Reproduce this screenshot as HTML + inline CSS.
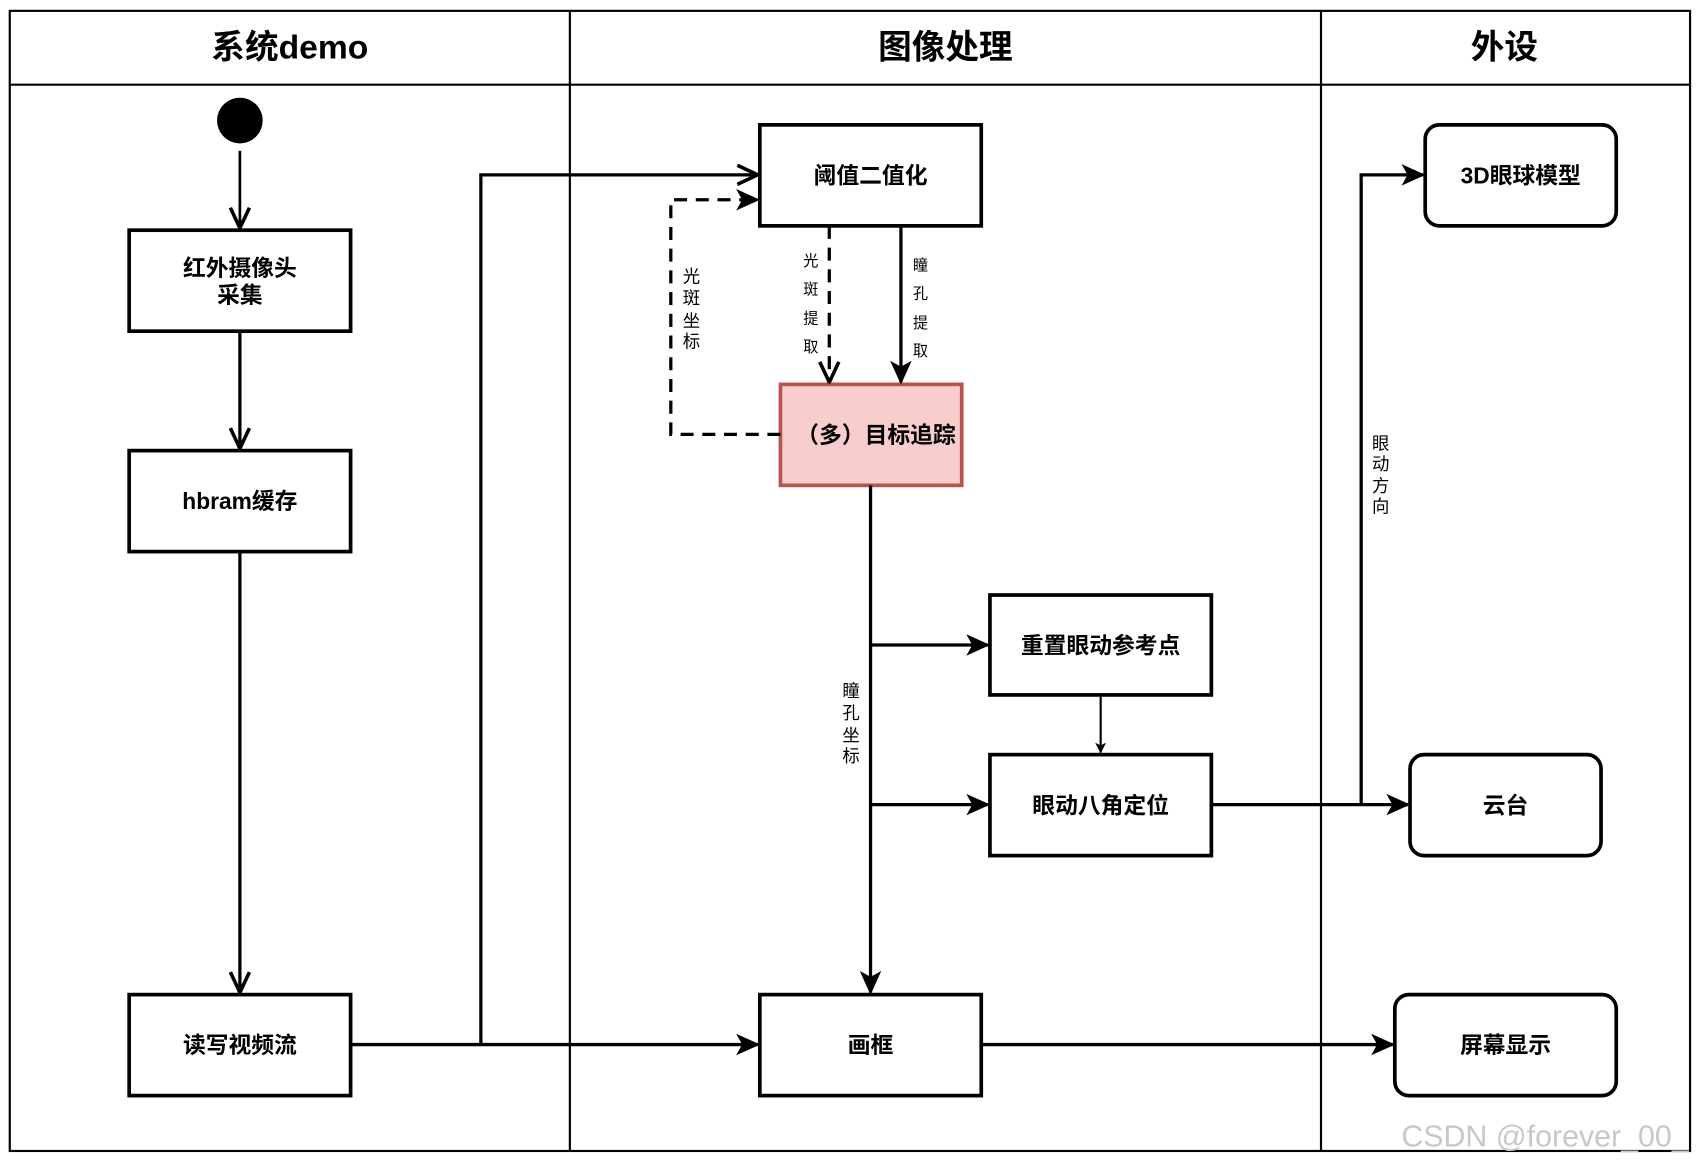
<!DOCTYPE html>
<html><head><meta charset="utf-8"><style>
html,body{margin:0;padding:0;background:#fff;}
svg{display:block;}
text{font-family:"Liberation Sans","Noto Sans CJK SC",sans-serif;}
.b{font-weight:bold;font-size:21px;fill:#000;}
.h{font-weight:bold;font-size:31px;fill:#000;}
.s{font-size:16px;fill:#000;}
</style></head><body>
<svg width="1702" height="1164" viewBox="0 0 1568 1072" preserveAspectRatio="none" xmlns="http://www.w3.org/2000/svg">
<defs>
<marker id="f" viewBox="0 0 20 20" refX="18" refY="10" markerWidth="10" markerHeight="10" markerUnits="userSpaceOnUse" orient="auto">
<path d="M0,0 L20,10 L0,20 L5,10 Z" fill="#000"/></marker>
<marker id="fb" viewBox="0 0 20 20" refX="18" refY="10" markerWidth="22" markerHeight="22" markerUnits="userSpaceOnUse" orient="auto">
<path d="M0,1 L20,10 L0,19 L5,10 Z" fill="#000"/></marker>
<marker id="o" viewBox="0 0 20 20" refX="19" refY="10" markerWidth="22" markerHeight="22" markerUnits="userSpaceOnUse" orient="auto">
<path d="M2,2 L19,10 L2,18" fill="none" stroke="#000" stroke-width="3"/></marker>
</defs>
<g fill="none" stroke="#000" stroke-width="2">
<rect x="9" y="10" width="1548" height="1050"/>
<line x1="9" y1="78" x2="1557" y2="78"/>
<line x1="525" y1="10" x2="525" y2="1060"/>
<line x1="1217" y1="10" x2="1217" y2="1060"/>
</g>
<text class="h" x="267" y="54" text-anchor="middle">系统demo</text>
<text class="h" x="871" y="54" text-anchor="middle">图像处理</text>
<text class="h" x="1386" y="54" text-anchor="middle">外设</text>
<circle cx="221" cy="111" r="21" fill="#000"/>
<g fill="none" stroke="#000" stroke-width="3.4">
<rect x="119" y="212" width="204" height="93" fill="#fff"/>
<rect x="119" y="415" width="204" height="93" fill="#fff"/>
<rect x="119" y="916" width="204" height="93" fill="#fff"/>
<rect x="700" y="115" width="204" height="93" fill="#fff"/>
<rect x="719" y="354" width="167" height="93" fill="#f8cecc" stroke="#b85450"/>
<rect x="912" y="548" width="204" height="92" fill="#fff"/>
<rect x="912" y="695" width="204" height="93" fill="#fff"/>
<rect x="700" y="916" width="204" height="93" fill="#fff"/>
<rect x="1313" y="115" width="176" height="93" rx="13" fill="#fff"/>
<rect x="1299" y="695" width="176" height="93" rx="13" fill="#fff"/>
<rect x="1285" y="916" width="204" height="93" rx="13" fill="#fff"/>
</g>
<g fill="none" stroke="#000" stroke-width="3">
<path d="M221,139 V210" marker-end="url(#o)" stroke-width="2.5"/>
<path d="M221,305 V413" marker-end="url(#o)"/>
<path d="M221,508 V914" marker-end="url(#o)"/>
<path d="M323,962 H698" marker-end="url(#fb)"/>
<path d="M443,962 V161 H698" marker-end="url(#o)"/>
<path d="M719,400 H618 V184 H698" stroke-dasharray="12,8" marker-end="url(#fb)"/>
<path d="M764,208 V352" stroke-dasharray="12,8" marker-end="url(#o)"/>
<path d="M830,208 V352" marker-end="url(#fb)"/>
<path d="M802,447 V914" marker-end="url(#fb)"/>
<path d="M802,594 H910" marker-end="url(#fb)"/>
<path d="M802,741 H910" marker-end="url(#fb)"/>
<path d="M1014,640 V693" stroke-width="2" marker-end="url(#f)"/>
<path d="M1116,741 H1297" marker-end="url(#fb)"/>
<path d="M1254,741 V161 H1311" marker-end="url(#fb)"/>
<path d="M904,962 H1283" marker-end="url(#fb)"/>
</g>
<text class="b" x="221" y="254" text-anchor="middle">红外摄像头</text>
<text class="b" x="221" y="279" text-anchor="middle">采集</text>
<text class="b" x="221" y="469" text-anchor="middle">hbram缓存</text>
<text class="b" x="221" y="970" text-anchor="middle">读写视频流</text>
<text class="b" x="802" y="169" text-anchor="middle">阈值二值化</text>
<text class="b" x="807" y="408" text-anchor="middle">（多）目标追踪</text>
<text class="b" x="1014" y="602" text-anchor="middle">重置眼动参考点</text>
<text class="b" x="1014" y="749" text-anchor="middle">眼动八角定位</text>
<text class="b" x="802" y="970" text-anchor="middle">画框</text>
<text class="b" x="1401" y="169" text-anchor="middle">3D眼球模型</text>
<text class="b" x="1387" y="749" text-anchor="middle">云台</text>
<text class="b" x="1387" y="970" text-anchor="middle">屏幕显示</text>
<g class="s" text-anchor="middle">
<text x="637" y="260">光</text><text x="637" y="280">斑</text><text x="637" y="301">坐</text><text x="637" y="320">标</text>
<text x="747" y="245" font-size="14">光</text><text x="747" y="271" font-size="14">斑</text><text x="747" y="298" font-size="14">提</text><text x="747" y="324" font-size="14">取</text>
<text x="848" y="249" font-size="14">瞳</text><text x="848" y="275" font-size="14">孔</text><text x="848" y="302" font-size="14">提</text><text x="848" y="328" font-size="14">取</text>
<text x="784" y="642">瞳</text><text x="784" y="662">孔</text><text x="784" y="683">坐</text><text x="784" y="702">标</text>
<text x="1272" y="414">眼</text><text x="1272" y="433">动</text><text x="1272" y="453">方</text><text x="1272" y="472">向</text>
</g>
<text x="1291" y="1056" font-size="28" fill="#c8c8c8" style="font-family:'Liberation Sans',sans-serif">CSDN @forever_00_</text>
</svg>
</body></html>
